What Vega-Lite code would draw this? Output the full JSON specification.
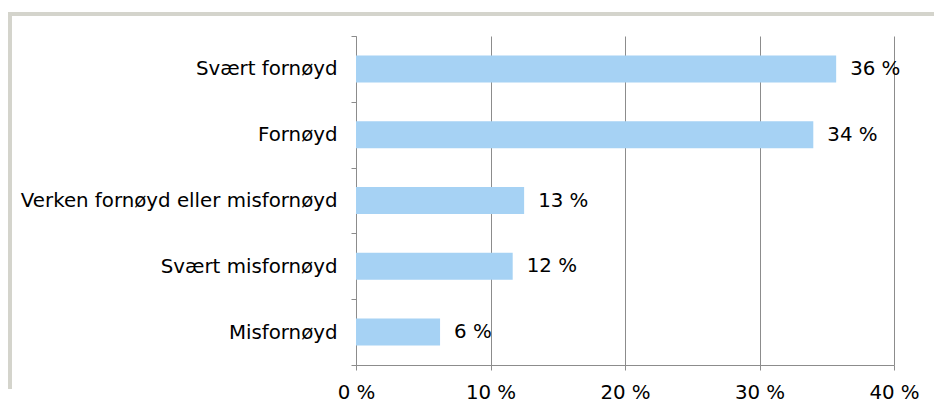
{
  "$schema": "https://vega.github.io/schema/vega-lite/v6.json",
  "width": 924,
  "height": 373,
  "autosize": {"type": "none"},
  "padding": {"left": 10, "top": 14, "right": 0, "bottom": 21},
  "background": "white",
  "config": {
    "font": "DejaVu Sans",
    "view": {"stroke": "#d4d4cc", "strokeWidth": 4, "strokeDash": [924, 1297, 373, 0], "strokeCap": "square"}
  },
  "data": {
    "values": [
      {"kategori": "Svært fornøyd", "andel": 35.7, "etikett": "36 %"},
      {"kategori": "Fornøyd", "andel": 34.0, "etikett": "34 %"},
      {"kategori": "Verken fornøyd eller misfornøyd", "andel": 12.5, "etikett": "13 %"},
      {"kategori": "Svært misfornøyd", "andel": 11.65, "etikett": "12 %"},
      {"kategori": "Misfornøyd", "andel": 6.25, "etikett": "6 %"}
    ]
  },
  "encoding": {
    "y": {
      "field": "kategori",
      "type": "nominal",
      "sort": null,
      "scale": {"range": [22, 351], "paddingInner": 0, "paddingOuter": 0},
      "axis": {
        "title": null,
        "orient": "left",
        "offset": -346,
        "tickBand": "extent",
        "ticks": true,
        "tickSize": 5,
        "tickColor": "#8c8c8c",
        "domainColor": "#8c8c8c",
        "labelPadding": 14,
        "labelFontSize": 19.8,
        "labelColor": "#000000",
        "labelLimit": 400,
        "grid": false
      }
    },
    "x": {
      "field": "andel",
      "type": "quantitative",
      "scale": {"domain": [0, 40], "range": [346, 884], "nice": false, "zero": true},
      "axis": {
        "title": null,
        "orient": "bottom",
        "offset": -22,
        "values": [0, 10, 20, 30, 40],
        "labelExpr": "datum.value + ' %'",
        "grid": true,
        "gridColor": "#8c8c8c",
        "gridWidth": 1,
        "domainColor": "#8c8c8c",
        "tickColor": "#8c8c8c",
        "tickSize": 5,
        "labelPadding": 12,
        "labelFontSize": 19.8,
        "labelColor": "#000000",
        "labelFlush": false
      }
    }
  },
  "layer": [
    {"mark": {"type": "bar", "color": "#a6d2f4", "height": {"band": 0.41}}},
    {
      "mark": {"type": "text", "align": "left", "baseline": "middle", "dx": 14, "fontSize": 19.8, "color": "#000000"},
      "encoding": {"text": {"field": "etikett"}}
    }
  ]
}
